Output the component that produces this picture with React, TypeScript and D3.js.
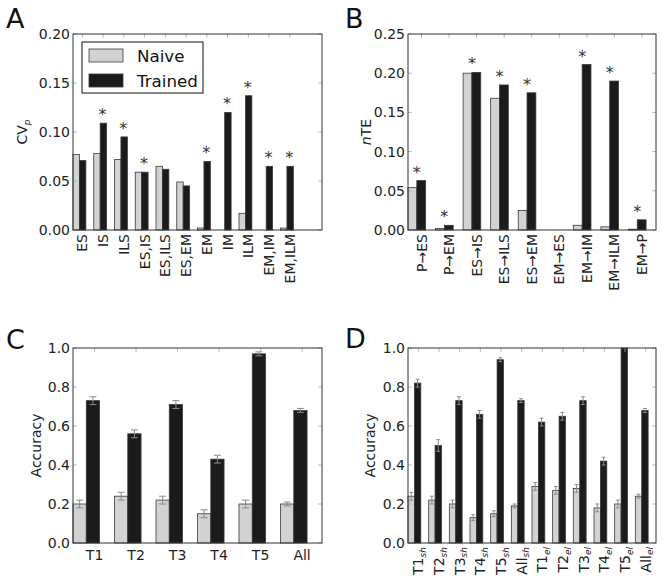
import React from "react";
import * as d3 from "d3";

// ---------- data ----------
const catsA = ["ES", "IS", "ILS", "ES,IS", "ES,ILS", "ES,EM", "EM", "IM", "ILM", "EM,IM", "EM,ILM"];
const naiveA = [0.077, 0.078, 0.072, 0.059, 0.065, 0.049, 0.002, 0, 0.017, 0, 0.002];
const trainedA = [0.071, 0.109, 0.095, 0.059, 0.062, 0.045, 0.07, 0.12, 0.137, 0.065, 0.065];
const starsA = [false, true, true, true, false, false, true, true, true, true, true];
const yTicksA = [0, 0.05, 0.1, 0.15, 0.2];

const catsB = ["P→ES", "P→EM", "ES→IS", "ES→ILS", "ES→EM", "EM→ES", "EM→IM", "EM→ILM", "EM→P"];
const naiveB = [0.054, 0.002, 0.2, 0.168, 0.025, 0, 0.006, 0.004, 0.001];
const trainedB = [0.063, 0.006, 0.201, 0.185, 0.175, 0, 0.211, 0.19, 0.013];
const starsB = [true, true, true, true, true, false, true, true, true];
const yTicksB = [0, 0.05, 0.1, 0.15, 0.2, 0.25];

const catsC = ["T1", "T2", "T3", "T4", "T5", "All"];
const naiveC = [0.2, 0.24, 0.22, 0.15, 0.2, 0.2];
const naiveErrC = [0.02, 0.02, 0.02, 0.02, 0.02, 0.01];
const trainedC = [0.73, 0.56, 0.71, 0.43, 0.97, 0.68];
const trainedErrC = [0.02, 0.02, 0.02, 0.02, 0.01, 0.01];

const catsD = ["T1", "T2", "T3", "T4", "T5", "All", "T1", "T2", "T3", "T4", "T5", "All"];
const subsD = ["sh", "sh", "sh", "sh", "sh", "sh", "el", "el", "el", "el", "el", "el"];
const naiveD = [0.24, 0.22, 0.2, 0.13, 0.15, 0.19, 0.29, 0.27, 0.28, 0.18, 0.2, 0.24];
const naiveErrD = [0.02, 0.02, 0.02, 0.015, 0.015, 0.01, 0.02, 0.02, 0.02, 0.02, 0.02, 0.01];
const trainedD = [0.82, 0.5, 0.73, 0.66, 0.94, 0.73, 0.62, 0.65, 0.73, 0.42, 1.0, 0.68];
const trainedErrD = [0.02, 0.03, 0.02, 0.02, 0.01, 0.01, 0.02, 0.02, 0.02, 0.02, 0, 0.01];
const yTicksAcc = [0, 0.2, 0.4, 0.6, 0.8, 1.0];

const legendLabels = ["Naive", "Trained"];

const FONT = "DejaVu Sans, sans-serif";
const NAIVE_FILL = "#d2d2d2";
const TRAINED_FILL = "#1b1b1b";
const EDGE = "#3a3a3a";
const ERR = "#8a8a8a";

type PanelProps = {
  letter: string;
  letterPos: [number, number];
  box: { l: number; r: number; t: number; b: number };
  cats: string[];
  subs?: string[];
  naive: number[];
  trained: number[];
  naiveErr?: number[];
  trainedErr?: number[];
  stars?: boolean[];
  starOffset?: number;
  yMax: number;
  yTicks: number[];
  fmt: string;
  nUnits: number;
  width: number;
  rotate: boolean;
  yLabel: React.ReactNode;
  yLabelX: number;
  labelOffset: number;
  legend?: boolean;
};

function Panel(p: PanelProps) {
  const { box } = p;
  const x = d3.scaleLinear().domain([0, p.nUnits]).range([box.l, box.r]);
  const y = d3.scaleLinear().domain([0, p.yMax]).range([box.b, box.t]);
  const f = d3.format(p.fmt);
  const bw = x(p.width) - x(0);
  const idx = p.cats.map((_, i) => i);
  const cap = Math.min(3.5, bw * 0.3);
  return (
    <g>
      <text x={p.letterPos[0]} y={p.letterPos[1]} fontSize={27} fontFamily={FONT} fill="#111">
        {p.letter}
      </text>
      {/* bars */}
      {idx.map((i) => (
        <g key={"b" + i}>
          {p.naive[i] > 0 && (
            <rect x={x(i)} y={y(p.naive[i])} width={bw} height={y(0) - y(p.naive[i])} fill={NAIVE_FILL} stroke={EDGE} strokeWidth={0.8} />
          )}
          {p.trained[i] > 0 && (
            <rect x={x(i + p.width)} y={y(p.trained[i])} width={bw} height={y(0) - y(p.trained[i])} fill={TRAINED_FILL} stroke={EDGE} strokeWidth={0.8} />
          )}
        </g>
      ))}
      {/* error bars */}
      {p.naiveErr &&
        idx.map((i) => {
          const cx = x(i + p.width / 2);
          const e = p.naiveErr![i];
          if (!e) return null;
          return (
            <g key={"ne" + i} stroke={ERR} strokeWidth={1}>
              <line x1={cx} x2={cx} y1={y(p.naive[i] - e)} y2={y(p.naive[i] + e)} />
              <line x1={cx - cap} x2={cx + cap} y1={y(p.naive[i] - e)} y2={y(p.naive[i] - e)} />
              <line x1={cx - cap} x2={cx + cap} y1={y(p.naive[i] + e)} y2={y(p.naive[i] + e)} />
            </g>
          );
        })}
      {p.trainedErr &&
        idx.map((i) => {
          const cx = x(i + p.width * 1.5);
          const e = p.trainedErr![i];
          if (!e) return null;
          return (
            <g key={"te" + i} stroke={ERR} strokeWidth={1}>
              <line x1={cx} x2={cx} y1={y(p.trained[i] - e)} y2={y(p.trained[i] + e)} />
              <line x1={cx - cap} x2={cx + cap} y1={y(p.trained[i] - e)} y2={y(p.trained[i] - e)} />
              <line x1={cx - cap} x2={cx + cap} y1={y(p.trained[i] + e)} y2={y(p.trained[i] + e)} />
            </g>
          );
        })}
      {/* stars */}
      {p.stars &&
        idx.map((i) =>
          p.stars![i] ? (
            <text key={"s" + i} x={x(i + (p.starOffset ?? p.width))} y={y(Math.max(p.trained[i], p.naive[i])) - 3} fontSize={16} textAnchor="middle" fontFamily={FONT} fill="#333">
              *
            </text>
          ) : null
        )}
      {/* inward ticks */}
      {p.yTicks.map((t, k) => (
        <g key={"yt" + k} stroke="#aaa" strokeWidth={0.8}>
          <line x1={box.l} x2={box.l + 4} y1={y(t)} y2={y(t)} />
          <line x1={box.r - 4} x2={box.r} y1={y(t)} y2={y(t)} />
        </g>
      ))}
      {idx.map((i) => (
        <g key={"xt" + i} stroke="#aaa" strokeWidth={0.8}>
          <line x1={x(i + p.labelOffset)} x2={x(i + p.labelOffset)} y1={box.t} y2={box.t + 4} />
        </g>
      ))}
      {/* frame */}
      <rect x={box.l} y={box.t} width={box.r - box.l} height={box.b - box.t} fill="none" stroke="#333" strokeWidth={1} />
      {/* y tick labels */}
      {p.yTicks.map((t, k) => (
        <text key={"yl" + k} x={box.l - 3} y={y(t)} dy="0.36em" textAnchor="end" fontSize={14} fontFamily={FONT} fill="#222">
          {f(t)}
        </text>
      ))}
      {/* x tick labels */}
      {p.cats.map((c, i) => {
        const tx = x(i + p.labelOffset);
        if (p.rotate) {
          return (
            <text key={"xl" + i} transform={`translate(${tx},${box.b + 4}) rotate(-90)`} dy="0.36em" textAnchor="end" fontSize={14} fontFamily={FONT} fill="#222">
              {c}
              {p.subs && (
                <tspan fontSize={9} fontStyle="italic" dy="0.3em">
                  {p.subs[i]}
                </tspan>
              )}
            </text>
          );
        }
        return (
          <text key={"xl" + i} x={tx} y={box.b + 17} textAnchor="middle" fontSize={14} fontFamily={FONT} fill="#222">
            {c}
          </text>
        );
      })}
      {/* y label */}
      <text transform={`translate(${p.yLabelX},${(box.t + box.b) / 2}) rotate(-90)`} textAnchor="middle" fontSize={14} fontFamily={FONT} fill="#222">
        {p.yLabel}
      </text>
      {p.legend && (
        <g>
          <rect x={82} y={42} width={121} height={51} fill="white" stroke="#111" strokeWidth={1} />
          <rect x={89} y={49} width={34} height={13} fill={NAIVE_FILL} stroke={EDGE} strokeWidth={0.8} />
          <rect x={89} y={74} width={34} height={13} fill={TRAINED_FILL} stroke={EDGE} strokeWidth={0.8} />
          <text x={137} y={62} fontSize={16.7} fontFamily={FONT} fill="#111">
            {legendLabels[0]}
          </text>
          <text x={137} y={87} fontSize={16.7} fontFamily={FONT} fill="#111">
            {legendLabels[1]}
          </text>
        </g>
      )}
    </g>
  );
}

export default function App() {
  return (
    <svg width={666} height={582} style={{ position: "absolute", left: 0, top: 0, background: "white" }}>
      <rect x={0} y={0} width={666} height={582} fill="white" />
      <Panel
        letter="A"
        letterPos={[6, 28]}
        box={{ l: 73, r: 322, t: 34, b: 230 }}
        cats={catsA}
        naive={naiveA}
        trained={trainedA}
        stars={starsA}
        starOffset={0.42}
        yMax={0.2}
        yTicks={yTicksA}
        fmt=".2f"
        nUnits={12}
        width={0.31}
        rotate={true}
        yLabel={
          <>
            CV
            <tspan fontSize={9} fontStyle="italic" dy="0.35em">
              p
            </tspan>
          </>
        }
        yLabelX={27}
        labelOffset={0.45}
        legend={true}
      />
      <Panel
        letter="B"
        letterPos={[345, 28]}
        box={{ l: 408, r: 656, t: 34, b: 230 }}
        cats={catsB}
        naive={naiveB}
        trained={trainedB}
        stars={starsB}
        starOffset={0.32}
        yMax={0.25}
        yTicks={yTicksB}
        fmt=".2f"
        nUnits={9}
        width={0.32}
        rotate={true}
        yLabel={
          <>
            <tspan fontStyle="italic">n</tspan>TE
          </>
        }
        yLabelX={371}
        labelOffset={0.49}
      />
      <Panel
        letter="C"
        letterPos={[6, 349]}
        box={{ l: 73, r: 322, t: 348, b: 543 }}
        cats={catsC}
        naive={naiveC}
        trained={trainedC}
        naiveErr={naiveErrC}
        trainedErr={trainedErrC}
        yMax={1}
        yTicks={yTicksAcc}
        fmt=".1f"
        nUnits={6}
        width={0.32}
        rotate={false}
        yLabel="Accuracy"
        yLabelX={41}
        labelOffset={0.52}
      />
      <Panel
        letter="D"
        letterPos={[345, 348]}
        box={{ l: 408, r: 656, t: 348, b: 543 }}
        cats={catsD}
        subs={subsD}
        naive={naiveD}
        trained={trainedD}
        naiveErr={naiveErrD}
        trainedErr={trainedErrD}
        yMax={1}
        yTicks={yTicksAcc}
        fmt=".1f"
        nUnits={12}
        width={0.31}
        rotate={true}
        yLabel="Accuracy"
        yLabelX={375}
        labelOffset={0.5}
      />
    </svg>
  );
}
